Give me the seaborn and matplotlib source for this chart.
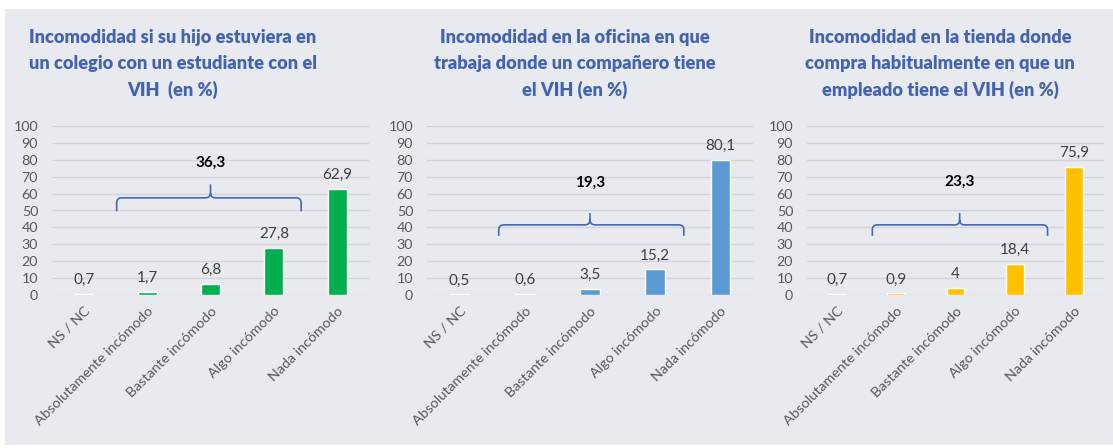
import matplotlib
matplotlib.use("Agg")
import matplotlib.pyplot as plt
import seaborn as sns
import pandas as pd
from matplotlib.path import Path
from matplotlib.patches import PathPatch, Rectangle

# categories shared by the three charts
categories = ["NS / NC", "Absolutamente incómodo", "Bastante incómodo",
              "Algo incómodo", "Nada incómodo"]

colegio = [0.7, 1.7, 6.8, 27.8, 62.9]
oficina = [0.5, 0.6, 3.5, 15.2, 80.1]
tienda = [0.7, 0.9, 4.0, 18.4, 75.9]

totals = ["36,3", "19,3", "23,3"]

titles = [
    "Incomodidad si su hijo estuviera en\nun colegio con un estudiante con el\nVIH  (en %)",
    "Incomodidad en la oficina en que\ntrabaja donde un compañero tiene\nel VIH (en %)",
    "Incomodidad en la tienda donde\ncompra habitualmente en que un\nempleado tiene el VIH (en %)",
]

colors = ["#00B050", "#5B9BD5", "#FFC000"]

W, H = 1113, 448
BG = "#E8EAEF"
TITLE_COLOR = "#4264B0"

sns.set_theme(style="white")
plt.rcParams["font.family"] = ["Lato", "DejaVu Sans"]

fig = plt.figure(figsize=(W / 100, H / 100), dpi=100)
fig.patch.set_facecolor("white")
fig.patches.append(Rectangle((5 / W, 3 / H), 1 - 5 / W, (H - 12) / H,
                             transform=fig.transFigure, facecolor=BG,
                             edgecolor="none", zorder=-10))


def px_box(x0, x1, ytop, ybot):
    return [x0 / W, 1 - ybot / H, (x1 - x0) / W, (ybot - ytop) / H]


def draw_brace(ax, x0, x1, xc, yh, yend, ytip):
    rx, ry = 0.08, 3.0
    verts = [(x0, yend), (x0, yh - ry), (x0, yh), (x0 + rx, yh),
             (xc - rx, yh), (xc, yh), (xc, yh + ry), (xc, ytip),
             (xc, yh + ry), (xc, yh), (xc + rx, yh),
             (x1 - rx, yh), (x1, yh), (x1, yh - ry), (x1, yend)]
    codes = [Path.MOVETO, Path.LINETO, Path.CURVE3, Path.CURVE3,
             Path.LINETO, Path.CURVE3, Path.CURVE3, Path.LINETO,
             Path.MOVETO, Path.CURVE3, Path.CURVE3,
             Path.LINETO, Path.CURVE3, Path.CURVE3, Path.LINETO]
    ax.add_patch(PathPatch(Path(verts, codes), facecolor="none",
                           edgecolor="#4668B4", lw=1.2, clip_on=False))


panels = [
    dict(vals=colegio, box=(52, 369), tx=173, brace=(0.52, 3.43, 2.0, 57.5, 49.5, 65.5), lab_y=74),
    dict(vals=oficina, box=(427, 753), tx=575, brace=(0.6, 3.44, 2.0, 41.5, 35.0, 48.5), lab_y=62),
    dict(vals=tienda, box=(807, 1104), tx=940, brace=(0.6, 3.55, 2.07, 41.5, 35.0, 48.5), lab_y=63),
]

for i, p in enumerate(panels):
    ax = fig.add_axes(px_box(p["box"][0], p["box"][1], 126, 295))
    ax.set_facecolor("none")
    df = pd.DataFrame({"cat": categories, "val": p["vals"]})
    sns.barplot(data=df, x="cat", y="val", color=colors[i], width=0.3,
                saturation=1, ax=ax, zorder=3)
    ax.set_xlim(-0.5, 4.5)
    ax.set_ylim(0, 100)
    ax.set_yticks(range(0, 101, 10))
    ax.grid(axis="y", color="#D2D4D8", lw=1, zorder=0)
    for s in ax.spines.values():
        s.set_visible(False)
    ax.set_xlabel("")
    ax.set_ylabel("")
    ax.tick_params(axis="y", labelsize=10.3, labelcolor="#595959", length=0, pad=10)
    ax.tick_params(axis="x", length=0, pad=7)
    ax.set_xticks(range(len(categories)))
    ax.set_xticklabels(categories, rotation=45, ha="right", rotation_mode="anchor",
                       fontsize=10.3, color="#595959")

    for j, v in enumerate(p["vals"]):
        txt = f"{v:g}".replace(".", ",")
        ax.text(j, v + 4, txt, ha="center", va="bottom", fontsize=11, color="#404040")

    draw_brace(ax, *p["brace"])
    ax.text(p["brace"][2], p["lab_y"], totals[i], ha="center", va="bottom",
            fontsize=11, fontweight="bold", color="black")

    fig.text(p["tx"] / W, 1 - 29 / H, titles[i], ha="center", va="top",
             fontsize=13.1, fontweight="heavy", color=TITLE_COLOR, linespacing=1.62)

fig.savefig("out.png", dpi=100, facecolor=fig.get_facecolor())
